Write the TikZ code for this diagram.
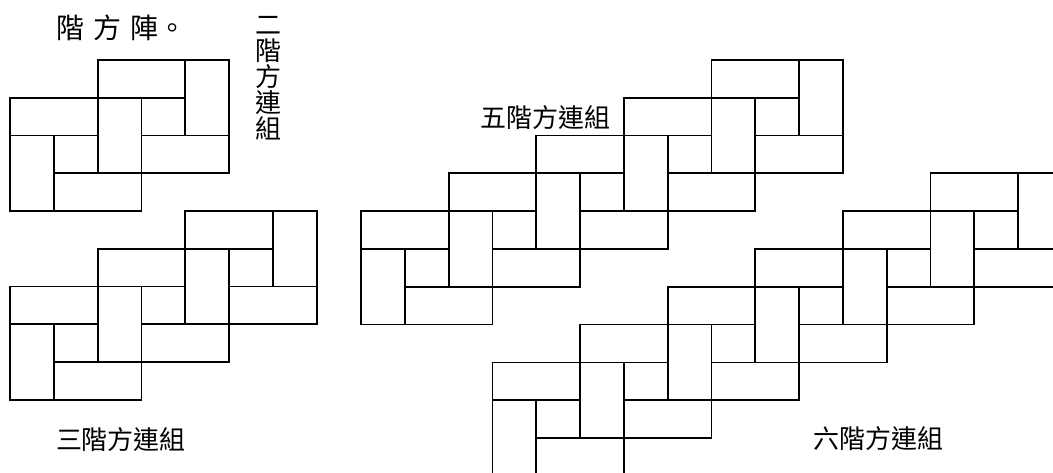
\documentclass[tikz,border=0pt]{standalone}
\usepackage{fontspec}
\newfontfamily\cjk{Noto Sans CJK TC}
\tikzset{
  piece/.style={draw=black, line width=1.8pt},
  label/.style={inner sep=0pt, font=\cjk\fontsize{26}{26}\selectfont},
  titlelabel/.style={inner sep=0pt, font=\cjk\fontsize{28}{28}\selectfont}
}
% #1 x, #2 y of top-left corner, #3 order n
\newcommand{\fangzu}[3]{%
  \begin{scope}[shift={(#1,#2)}, x=43.8pt, y=-37.8pt]
    \pgfmathtruncatemacro{\nlast}{#3-1}
    \draw[piece] (0,#3) rectangle (1,#3+2);
    \foreach \k in {0,...,\nlast} {
      \draw[piece] (1+2*\k, #3-\k) rectangle (2+2*\k, #3+1-\k);
      \draw[piece] (1+2*\k, #3+1-\k) rectangle (3+2*\k, #3+2-\k);
      \draw[piece] (2*\k, #3-1-\k) rectangle (2+2*\k, #3-\k);
      \draw[piece] (2+2*\k, #3-1-\k) rectangle (3+2*\k, #3+1-\k);
    }
  \end{scope}}
\begin{document}
\begin{tikzpicture}[x=1pt, y=-1pt]
  \useasboundingbox (0,0) rectangle (1053,473);
  \clip (0,0) rectangle (1053,473);
  \fill[white] (0,0) rectangle (1053,473);
  \fangzu{10}{60}{2}
  \fangzu{10}{211}{3}
  \fangzu{361}{60}{5}
  \fangzu{492.5}{173.4}{6}
  \node[titlelabel, anchor=west] (title) at (56,28) {階\hspace{9pt}方\hspace{9pt}陣\hspace{0pt}。};
  \node[label, align=center] (l2) at (268,78) {二\\階\\方\\連\\組};
  \node[label] (l3) at (121,440) {三階方連組};
  \node[label] (l5) at (545,118) {五階方連組};
  \node[label] (l6) at (878,439) {六階方連組};
\end{tikzpicture}
\end{document}
